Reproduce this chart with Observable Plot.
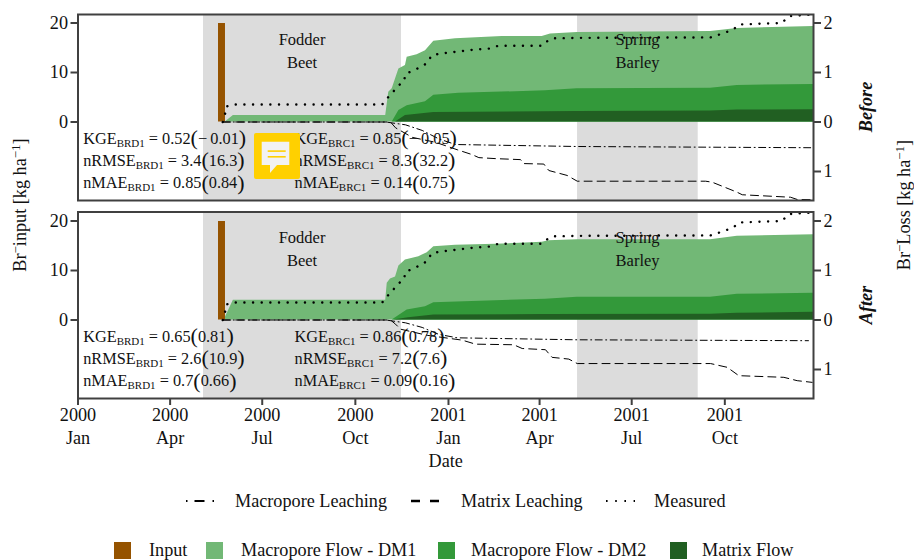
<!DOCTYPE html>
<html><head><meta charset="utf-8">
<script src="https://cdn.jsdelivr.net/npm/d3@7"></script>
<script src="https://cdn.jsdelivr.net/npm/@observablehq/plot@0.6"></script>
<style>
html,body{margin:0;padding:0;background:#fff;width:914px;height:560px;overflow:hidden;font-family:"Liberation Serif",serif;color:#111}
#page{position:relative;width:914px;height:560px}
#page>svg{position:absolute}
</style></head><body><div id="page"></div>
<script>
// Days since 2000-01-01, values in Br- loss units (right axis, kg/ha)
const tickDays = [0, 91, 182, 274, 366, 456, 547, 639];
const cropNames = ["Fodder\nBeet", "Spring\nBarley"];
const cropStart = [124, 493.5];
const cropEnd = [319.6, 612.7];
const cropMid = [221.3, 552.8];
const inputDayStart = [138.8];
const inputDayEnd = [145.7];
const inputValue = [19.9];

const measuredDays = [143,145.5,146,153.5,300.5,305,311,315.5,322,323.5,331,338.5,345.5,349,357,390.5,407.5,415,458.5,463.5,468.5,496.5,625,640,648,653,695.5,702,726.6];
const measuredVals = [0,.18,.31,.354,.354,.47,.6,.72,.82,.97,1.04,1.11,1.2,1.34,1.38,1.46,1.485,1.54,1.54,1.63,1.69,1.70,1.71,1.81,1.88,1.97,2.0,2.14,2.17];

// "Before" panel, cumulative tops of the flow layers
const dm1DaysA = [145.5,153.5,304,307,310.4,317,323.5,325.2,335,343.3,351.5,373,419,458.6,466.8,493.2,624.9,651.3,726.6];
const dm1ValsA = [0,.13,.13,.60,.67,1.07,1.14,1.31,1.36,1.44,1.63,1.68,1.73,1.73,1.78,1.81,1.83,1.89,1.93];
const dm2DaysA = [310.4,317,325.2,343.3,351.5,376.2,461.8,493.2,624.9,651.3,726.6];
const dm2ValsA = [0,.23,.33,.41,.54,.58,.63,.67,.68,.74,.76];
const matDaysA = [313.7,323.5,351.5,493.2,624.9,651.3,726.6];
const matValsA = [0,.13,.19,.21,.22,.24,.25];
const macroDaysA = [143,304,323.5,340,356.4,373,493.2,726.6];
const macroValsA = [0,0,-.057,-.17,-.34,-.455,-.495,-.52];
const matrixDaysA = [143,308.7,313.7,330.2,353.2,374.6,389.5,396,412.5,437.2,440.4,460.2,465.1,483.3,493.2,620,626.5,651.3,656.2,703.9,710.5,726.6];
const matrixValsA = [0,0,-.117,-.31,-.41,-.56,-.66,-.72,-.74,-.76,-.84,-.85,-.98,-1.08,-1.196,-1.196,-1.216,-1.42,-1.47,-1.52,-1.565,-1.57];

// "After" panel
const dm1DaysB = [145.5,153.5,304,305.5,308.7,313.7,317,323.5,336.7,345,351.5,373,412.5,458.6,465.1,493.2,624.9,651.3,726.6];
const dm1ValsB = [.05,.40,.40,.74,.83,.87,1.09,1.21,1.28,1.36,1.48,1.51,1.53,1.57,1.60,1.62,1.62,1.69,1.72];
const dm2DaysB = [310.4,325.2,343.3,351.5,461.8,493.2,624.9,651.3,726.6];
const dm2ValsB = [0,.20,.27,.35,.42,.46,.46,.52,.54];
const matDaysB = [311.7,326.5,351.5,458.6,624.9,651.3,726.6];
const matValsB = [0,.045,.10,.11,.115,.135,.155];
const macroDaysB = [143,304,323.5,340,356.4,374.6,493.2,721.6];
const macroValsB = [0,0,-.057,-.15,-.29,-.36,-.40,-.418];
const matrixDaysB = [143,308.7,313.7,318.6,345,379.6,392.7,430.5,438.8,461.8,468.4,484.9,493.2,624.9,641.4,652.8,697.3,710.5,725.3];
const matrixValsB = [0,0,-.084,-.185,-.31,-.407,-.488,-.50,-.576,-.6,-.755,-.79,-.88,-.88,-.956,-1.125,-1.158,-1.226,-1.26];

const statNames = ["KGE", "nRMSE", "nMAE"];
const statBRD1A = ["0.52(−\u20090.01)", "3.4(16.3)", "0.85(0.84)"];
const statBRC1A = ["0.85(−\u20090.05)", "8.3(32.2)", "0.14(0.75)"];
const statBRD1B = ["0.65(0.81)", "2.6(10.9)", "0.7(0.66)"];
const statBRC1B = ["0.86(0.78)", "7.2(7.6)", "0.09(0.16)"];
const statRowY = [-3.3, -7.8, -12.3];
const statColDay = [5.1, 213.9];

const lightGreen = "#72b876", midGreen = "#33993a", darkGreen = "#215f22", brown = "#955300", grey = "#dcdcdc", axisCol = "#404040", font = "Liberation Serif", fs = 18.2, statFs = 16.3, cropFs = 16.5;
const toDate = d => new Date(Date.UTC(2000, 0, 1) + d * 864e5);
const K = 10; // left axis unit = right axis unit * 10
const series = (days, vals) => days.map((d, i) => ({date: toDate(d), v: vals[i] * K}));

function panel(cfg) {
  const cropRows = cropNames.map((name, i) => ({name, a: toDate(cropStart[i]), b: toDate(cropEnd[i]), m: toDate(cropMid[i])}));
  const inputRows = inputValue.map((v, i) => ({a: toDate(inputDayStart[i]), b: toDate(inputDayEnd[i]), v}));
  const stats = [];
  statNames.forEach((n, i) => {
    stats.push({x: toDate(statColDay[0]), y: statRowY[i], t: `${n}_{BRD1} = ${cfg.s1[i]}`});
    stats.push({x: toDate(statColDay[1]), y: statRowY[i], t: `${n}_{BRC1} = ${cfg.s2[i]}`});
  });
  const area = (s, fill) => Plot.areaY(s, {x: "date", y: "v", fill, curve: "linear"});
  const marks = [
    Plot.rectY(cropRows, {x1: "a", x2: "b", y1: cfg.domain[0], y2: cfg.domain[1], fill: grey}),
    area(series(cfg.dm1[0], cfg.dm1[1]), lightGreen),
    area(series(cfg.dm2[0], cfg.dm2[1]), midGreen),
    area(series(cfg.mat[0], cfg.mat[1]), darkGreen),
    Plot.rectY(inputRows, {x1: "a", x2: "b", y1: 0, y2: "v", fill: brown}),
    Plot.lineY(series(cfg.macro[0], cfg.macro[1]), {x: "date", y: "v", stroke: "#000", strokeWidth: 1, strokeDasharray: "7 3.5 1 3.5"}),
    Plot.lineY(series(cfg.matrix[0], cfg.matrix[1]), {x: "date", y: "v", stroke: "#000", strokeWidth: 1, strokeDasharray: "8 5"}),
    Plot.lineY(series(measuredDays, measuredVals), {x: "date", y: "v", stroke: "#000", strokeWidth: 2.4, strokeLinecap: "round", strokeDasharray: "0.1 8.55"}),
    Plot.text(cropRows, {x: "m", y: 14.8, text: "name", fontSize: cropFs, lineHeight: 1.42, fill: "#111", lineAnchor: "middle"}),
    Plot.text(stats, {x: "x", y: "y", text: "t", textAnchor: "start", fontSize: statFs, fill: "#111", lineAnchor: "middle"}),
    Plot.axisY({anchor: "left", ticks: [0, 10, 20], tickSize: 7, tickPadding: 3, stroke: axisCol, strokeWidth: 2, fill: "#111", label: null, fontSize: fs}),
    Plot.axisY({anchor: "right", ticks: [-10, 0, 10, 20], tickFormat: d => Math.abs(d / K), tickSize: 7, tickPadding: 3, stroke: axisCol, strokeWidth: 2, fill: "#111", label: null, fontSize: fs}),
    Plot.frame({stroke: axisCol, strokeWidth: 2})
  ];
  if (cfg.showX) marks.push(Plot.axisX({ticks: tickDays.map(toDate), tickFormat: d3.utcFormat("%Y\n%b"), tickSize: 7, tickPadding: -1, lineHeight: 1.27, stroke: axisCol, strokeWidth: 2, fill: "#111", label: "Date", labelAnchor: "center", labelArrow: "none", labelOffset: 68, fontSize: fs}));
  const svg = Plot.plot({
    width: 914, height: cfg.height,
    marginLeft: 77.5, marginRight: 101, marginTop: cfg.mt, marginBottom: cfg.mb,
    x: {type: "utc", domain: [toDate(0), toDate(726.6)], axis: null},
    y: {domain: cfg.domain, axis: null},
    clip: true,
    style: {fontFamily: font, fontSize: fs + "px", background: "transparent", overflow: "visible"},
    marks
  });
  svg.style.left = "0"; svg.style.top = cfg.top + "px";
  // typeset subscripts and tall parentheses on the statistic labels
  svg.querySelectorAll("text").forEach(el => {
    const raw = el.textContent;
    if (!raw.includes("_{")) return;
    const tgt = el.querySelector("tspan") || el;
    tgt.textContent = "";
    const re = /_\{(.*?)\}|[()]|[^_()]+/g; let m; let pending = 0;
    while ((m = re.exec(raw))) {
      const ts = document.createElementNS("http://www.w3.org/2000/svg", "tspan");
      let dy = pending; pending = 0;
      if (m[1]) { ts.textContent = m[1]; ts.setAttribute("font-size", "11"); dy += 3; pending = -3; }
      else if (m[0] === "(" || m[0] === ")") { ts.textContent = m[0]; ts.setAttribute("font-size", "22"); ts.setAttribute("font-weight", "100"); dy += 1.5; pending = -1.5; }
      else ts.textContent = m[0];
      if (dy) ts.setAttribute("dy", dy);
      tgt.appendChild(ts);
    }
  });
  return svg;
}

const page = document.getElementById("page");
page.appendChild(panel({top: 0, height: 210, mt: 14, mb: 10, domain: [-15.86, 21.72], showX: false,
  dm1: [dm1DaysA, dm1ValsA], dm2: [dm2DaysA, dm2ValsA], mat: [matDaysA, matValsA], macro: [macroDaysA, macroValsA], matrix: [matrixDaysA, matrixValsA], s1: statBRD1A, s2: statBRC1A}));
page.appendChild(panel({top: 205, height: 265, mt: 6.5, mb: 72, domain: [-15.86, 21.82], showX: true,
  dm1: [dm1DaysB, dm1ValsB], dm2: [dm2DaysB, dm2ValsB], mat: [matDaysB, matValsB], macro: [macroDaysB, macroValsB], matrix: [matrixDaysB, matrixValsB], s1: statBRD1B, s2: statBRC1B}));

// overlay: side titles and chat badge
const ov = d3.select(page).append("svg").attr("width", 914).attr("height", 560).style("left", 0).style("top", 0).style("font-family", font).style("font-size", "18.2px").style("fill", "#111");
function vtext(x, y, parts, extra) {
  const t = ov.append("text").attr("transform", `translate(${x},${y}) rotate(-90)`).attr("text-anchor", "middle");
  if (extra) Object.entries(extra).forEach(([k, v]) => t.attr(k, v));
  let pending = 0;
  parts.forEach(p => {
    const s = t.append("tspan").text(p[0]);
    let dy = pending; pending = 0;
    if (p[1]) { s.attr("font-size", 13); dy -= 6; pending = 6; }
    if (dy) s.attr("dy", dy);
  });
}
vtext(26, 205, [["Br"], ["−", 1], ["input [kg ha"], ["−1", 1], ["]"]]);
vtext(910, 205, [["Br"], ["−", 1], ["Loss [kg ha"], ["−1", 1], ["]"]]);
vtext(872, 107, [["Before"]], {"font-weight": "bold", "font-style": "italic"});
vtext(872, 305, [["After"]], {"font-weight": "bold", "font-style": "italic"});
const badge = ov.append("g");
badge.append("rect").attr("x", 254).attr("y", 133).attr("width", 46).attr("height", 46).attr("rx", 2).attr("fill", "#ffd000");
badge.append("path").attr("d", "M261.7 141.7H289.3V165H277L270 173V165H261.7Z").attr("fill", "#f2f2f2");
badge.append("rect").attr("x", 267.7).attr("y", 150.3).attr("width", 18).attr("height", 1.6).attr("fill", "#ffd000");
badge.append("rect").attr("x", 267.7).attr("y", 156).attr("width", 18).attr("height", 1.6).attr("fill", "#ffd000");

// legends
const legendLines = [
  {label: "Macropore Leaching", tx: 235, x1: 186, x2: 214, dash: "1.5 7 10 8", w: 2},
  {label: "Matrix Leaching", tx: 461, x1: 411, x2: 439, dash: "9 10", w: 2.5},
  {label: "Measured", tx: 654, x1: 606, x2: 635, dash: "1.6 7.6", w: 1.8}
];
const legendSwatches = [
  {label: "Input", x: 114, tx: 149, c: brown},
  {label: "Macropore Flow - DM1", x: 206, tx: 241, c: lightGreen},
  {label: "Macropore Flow - DM2", x: 438, tx: 471, c: midGreen},
  {label: "Matrix Flow", x: 670, tx: 702, c: darkGreen}
];
legendLines.forEach(l => {
  ov.append("line").attr("x1", l.x1).attr("x2", l.x2).attr("y1", 501).attr("y2", 501).attr("stroke", "#000").attr("stroke-width", l.w).attr("stroke-dasharray", l.dash);
  ov.append("text").attr("x", l.tx).attr("y", 507).text(l.label);
});
legendSwatches.forEach(l => {
  ov.append("rect").attr("x", l.x).attr("y", 542).attr("width", 17).attr("height", 17).attr("fill", l.c);
  ov.append("text").attr("x", l.tx).attr("y", 556).text(l.label);
});
</script></body></html>
